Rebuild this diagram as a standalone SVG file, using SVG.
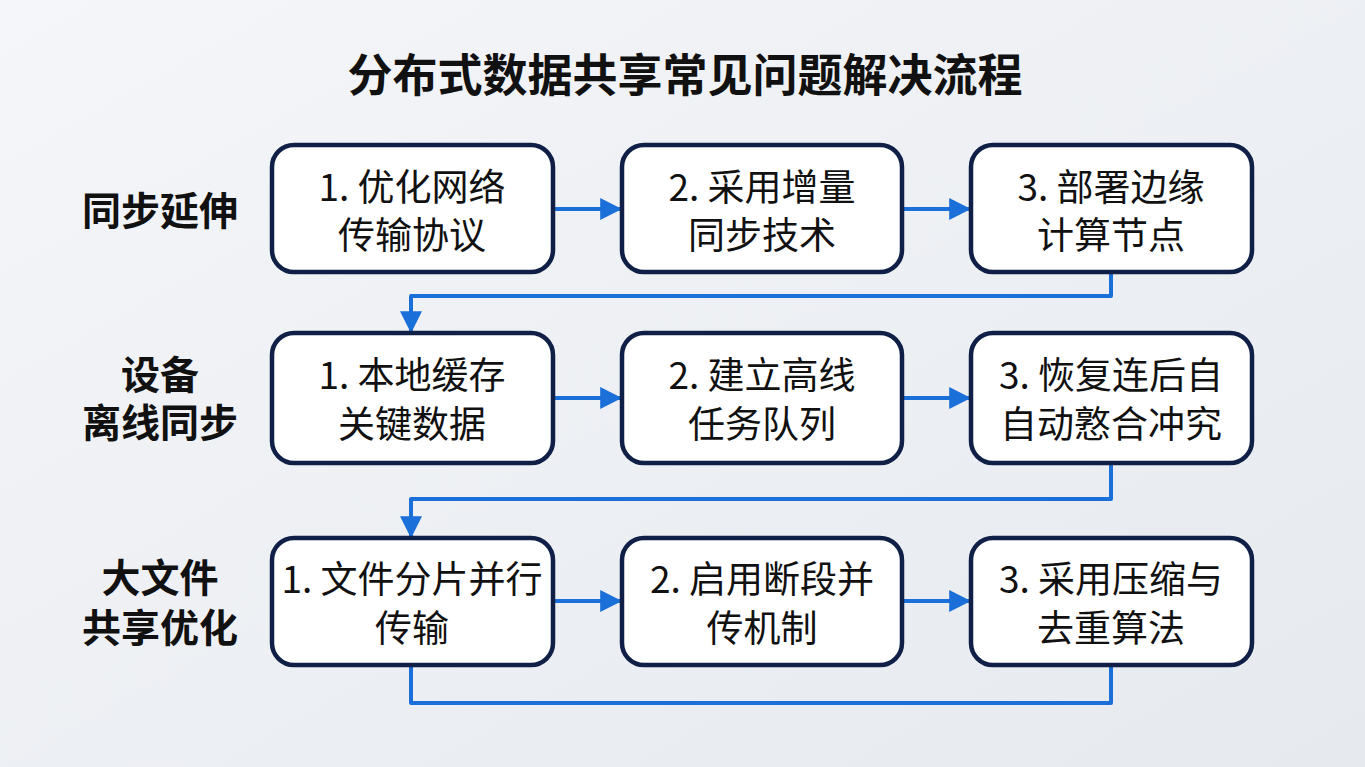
<svg xmlns="http://www.w3.org/2000/svg" width="1365" height="767" viewBox="0 0 1365 767">
<defs>
<linearGradient id="bg" x1="0" y1="0" x2="1" y2="1">
<stop offset="0" stop-color="#f4f6f9"/>
<stop offset="1" stop-color="#e6e9ee"/>
</linearGradient>
<marker id="ah" viewBox="0 0 10 10" refX="9" refY="5" markerWidth="5.5" markerHeight="5.5" markerUnits="strokeWidth" orient="auto">
<path d="M0,0 L10,5 L0,10 z" fill="#1a6fd8"/>
</marker>
<style>
.box{fill:#ffffff;stroke:#0f1f45;stroke-width:4.5}
.t{font-family:"Noto Sans CJK SC","Noto Sans",sans-serif;font-size:37px;fill:#111;text-anchor:middle}
.lab{font-family:"Noto Sans CJK SC",sans-serif;font-size:39px;font-weight:bold;fill:#111;text-anchor:middle}
.title{font-family:"Noto Sans CJK SC",sans-serif;font-size:45px;font-weight:bold;fill:#111;text-anchor:middle}
.c{fill:none;stroke:#1a6fd8;stroke-width:4;stroke-linejoin:round}
</style>
</defs>
<rect width="1365" height="767" fill="url(#bg)"/>
<text class="title" x="685" y="92">分布式数据共享常见问题解决流程</text>
<g id="labels">
<text class="lab" x="160" y="225">同步延伸</text>
<text class="lab" x="160" y="389">设备</text>
<text class="lab" x="160" y="437">离线同步</text>
<text class="lab" x="160" y="592">大文件</text>
<text class="lab" x="160" y="642">共享优化</text>
</g>
<g id="connectors">
<line class="c" x1="553" y1="209" x2="620" y2="209" marker-end="url(#ah)"/>
<line class="c" x1="902" y1="209" x2="969" y2="209" marker-end="url(#ah)"/>
<line class="c" x1="553" y1="398" x2="620" y2="398" marker-end="url(#ah)"/>
<line class="c" x1="902" y1="398" x2="969" y2="398" marker-end="url(#ah)"/>
<line class="c" x1="553" y1="601" x2="620" y2="601" marker-end="url(#ah)"/>
<line class="c" x1="902" y1="601" x2="969" y2="601" marker-end="url(#ah)"/>
<path class="c" d="M1111,272 V296 H411 V331" marker-end="url(#ah)"/>
<path class="c" d="M1111,463 V499 H411 V536" marker-end="url(#ah)"/>
<path class="c" d="M411,665 V703 H1111 V665"/>
</g>
<g id="n11"><rect class="box" x="272" y="145" width="281" height="127" rx="22"/><text class="t" x="412" y="201">1. 优化网络</text><text class="t" x="412" y="249">传输协议</text></g>
<g id="n12"><rect class="box" x="622" y="145" width="280" height="127" rx="22"/><text class="t" x="762" y="201">2. 采用增量</text><text class="t" x="762" y="249">同步技术</text></g>
<g id="n13"><rect class="box" x="971" y="145" width="281" height="127" rx="22"/><text class="t" x="1111" y="201">3. 部署边缘</text><text class="t" x="1111" y="249">计算节点</text></g>
<g id="n21"><rect class="box" x="272" y="333" width="281" height="130" rx="22"/><text class="t" x="412" y="389">1. 本地缓存</text><text class="t" x="412" y="438">关键数据</text></g>
<g id="n22"><rect class="box" x="622" y="333" width="280" height="130" rx="22"/><text class="t" x="762" y="389">2. 建立高线</text><text class="t" x="762" y="438">任务队列</text></g>
<g id="n23"><rect class="box" x="971" y="333" width="281" height="130" rx="22"/><text class="t" x="1111" y="389">3. 恢复连后自</text><text class="t" x="1111" y="438">自动憝合冲究</text></g>
<g id="n31"><rect class="box" x="272" y="538" width="281" height="127" rx="22"/><text class="t" x="412" y="593">1. 文件分片并行</text><text class="t" x="412" y="642">传输</text></g>
<g id="n32"><rect class="box" x="622" y="538" width="280" height="127" rx="22"/><text class="t" x="762" y="593">2. 启用断段并</text><text class="t" x="762" y="642">传机制</text></g>
<g id="n33"><rect class="box" x="971" y="538" width="281" height="127" rx="22"/><text class="t" x="1111" y="593">3. 采用压缩与</text><text class="t" x="1111" y="642">去重算法</text></g>
</svg>
